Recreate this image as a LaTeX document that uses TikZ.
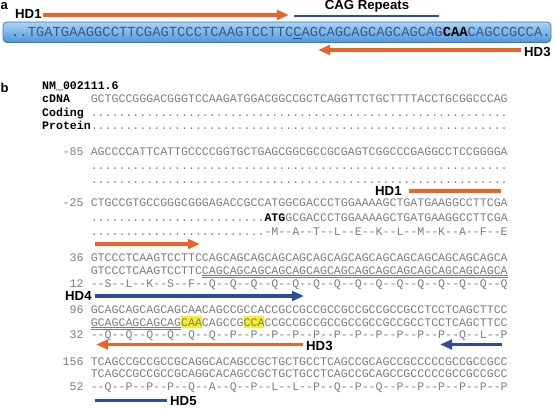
\documentclass[tikz,border=0pt]{standalone}
\usepackage{fontspec}
\setmainfont{Liberation Sans}
\setmonofont{Liberation Mono}
\usetikzlibrary{arrows.meta}
\definecolor{seqgray}{RGB}{125,125,125}
\definecolor{hdorange}{RGB}{233,99,43}
\definecolor{hdblue}{RGB}{46,77,155}
\definecolor{hlyellow}{RGB}{246,240,40}
\definecolor{bartop}{RGB}{170,212,244}
\definecolor{barbot}{RGB}{78,150,218}
\definecolor{barline}{RGB}{58,118,188}
\definecolor{bartext}{RGB}{52,88,140}
\newcommand\sqfont{\ttfamily\fontsize{11.58}{13}\selectfont}
\newcommand\bigsqfont{\ttfamily\fontsize{13.83}{15}\selectfont}
\newcommand\tendots{..........}
\newcommand\sixtydots{\tendots\tendots\tendots\tendots\tendots\tendots}
\begin{document}
\begin{tikzpicture}[x=1pt,y=-1pt,
  seq/.style={anchor=base west,inner sep=0,font=\sqfont,text=seqgray},
  lab/.style={anchor=base west,inner sep=0,font=\sqfont\bfseries,text=black},
  num/.style={anchor=base east,inner sep=0,font=\sqfont,text=seqgray},
  hd/.style={inner sep=0,font=\fontsize{13.2}{14}\selectfont\bfseries},
  panel/.style={inner sep=0,anchor=west,font=\fontsize{13}{13}\selectfont\bfseries},
  oarrow/.style={draw=hdorange,line width=3.2pt,-{Triangle[length=12pt,width=9.5pt]}},
  barrow/.style={draw=hdblue,line width=3.2pt,-{Triangle[length=12pt,width=9.5pt]}},
  oline/.style={draw=hdorange,line width=3.2pt},
  bline/.style={draw=hdblue,line width=3.2pt},
  uline/.style={draw=seqgray,line width=0.5pt},
  hilite/.style={fill=hlyellow,draw=none},
  seqbar/.style={draw=barline,line width=0.8pt,rounded corners=4pt,top color=bartop,bottom color=barbot,inner sep=0,minimum width=548pt,minimum height=20.5pt}]
\useasboundingbox (0,0) rectangle (557,409);

% ---------- panel a ----------
\node[panel] (pa) at (0.5,6.5) {a};
\node[hd,anchor=west] (hdonea) at (15,14) {HD1};
\coordinate (hdoneas) at (43,15);
\coordinate (hdoneae) at (289,15);
\draw[oarrow] (hdoneas) -- (hdoneae);
\node[hd] (cag) at (367,6.5) {CAG Repeats};
\coordinate (cags) at (294,16);
\coordinate (cage) at (439,16);
\draw[draw=hdblue,line width=2.6pt] (cags) -- (cage);
\node[seqbar] (bar) at (277,32.2) {};
\node[anchor=base west,inner sep=0,font=\bigsqfont,text=bartext] (seqa) at (11,36.6)
  {..TGATGAAGGCCTTCGAGTCCCTCAAGTCCTTC\underline{C}AGCAGCAGCAGCAGCAG\textcolor{black}{\bfseries CAA}CAGCCGCCA.};
\coordinate (hdthreeas) at (521,50);
\coordinate (hdthreeae) at (318,50);
\draw[oarrow] (hdthreeas) -- (hdthreeae);
\node[hd,anchor=west] (hdthreea) at (524,52) {HD3};

% ---------- panel b ----------
\node[panel] (pb) at (0.5,88) {b};
\node[lab] (nm) at (42,89.5) {NM\_002111.6};
\node[lab] (cdnal) at (42,103) {cDNA};
\node[seq] (cdna) at (90.6,103) {GCTGCCGGGACGGGTCCAAGATGGACGGCCGCTCAGGTTCTGCTTTTACCTGCGGCCCAG};
\node[lab] (codl) at (42,116.5) {Coding};
\node[seq] (cod) at (90.6,116.5) {\sixtydots};
\node[lab] (prol) at (42,130) {Protein};
\node[seq] (pro) at (90.6,130) {\sixtydots};

% -85
\node[num] (nA) at (83.7,156) {-85};
\node[seq] (sA) at (90.6,156) {AGCCCCATTCATTGCCCCGGTGCTGAGCGGCGCCGCGAGTCGGCCCGAGGCCTCCGGGGA};
\node[seq] (cA) at (90.6,169.5) {\sixtydots};
\node[seq] (pA) at (90.6,183.5) {\sixtydots};

% HD1 (b)
\node[hd,anchor=west] (hdoneb) at (375,190.5) {HD1};
\coordinate (hdonebs) at (409,191);
\coordinate (hdonebe) at (501,191);
\draw[oline] (hdonebs) -- (hdonebe);

% -25
\node[num] (nB) at (83.7,207) {-25};
\node[seq] (sB) at (90.6,207) {CTGCCGTGCCGGGCGGGAGACCGCCATGGCGACCCTGGAAAAGCTGATGAAGGCCTTCGA};
\node[seq] (cB) at (90.6,221) {\tendots\tendots.....\textcolor{black}{\bfseries ATG}GCGACCCTGGAAAAGCTGATGAAGGCCTTCGA};
\node[seq] (pB) at (90.6,235.5) {\tendots\tendots.....-M--A--T--L--E--K--L--M--K--A--F--E};

\coordinate (hdtwos) at (95,244);
\coordinate (hdtwoe) at (200,244);
\draw[oarrow] (hdtwos) -- (hdtwoe);

% 36
\node[num] (nC) at (83.7,261) {36};
\node[seq] (sC) at (90.6,261) {GTCCCTCAAGTCCTTCCAGCAGCAGCAGCAGCAGCAGCAGCAGCAGCAGCAGCAGCAGCA};
\node[seq] (cC) at (90.6,274) {GTCCCTCAAGTCCTTCCAGCAGCAGCAGCAGCAGCAGCAGCAGCAGCAGCAGCAGCAGCA};
\coordinate (ulCs) at (201.8,275.4);
\coordinate (ulCe) at (507.6,275.4);
\draw[uline] (ulCs) -- (ulCe);
\draw[uline] ([yshift=-1.6pt]ulCs) -- ([yshift=-1.6pt]ulCe);
\node[num] (qC) at (83.7,287.5) {12};
\node[seq] (pC) at (90.6,287.5) {--S--L--K--S--F--Q--Q--Q--Q--Q--Q--Q--Q--Q--Q--Q--Q--Q--Q--Q};

% HD4
\node[hd,anchor=west] (hdfour) at (65,296) {HD4};
\coordinate (hdfours) at (95,296);
\coordinate (hdfoure) at (304,296);
\draw[barrow] (hdfours) -- (hdfoure);

% 96
\node[num] (nD) at (83.7,313) {96};
\node[seq] (sD) at (90.6,313) {GCAGCAGCAGCAGCAACAGCCGCCACCGCCGCCGCCGCCGCCGCCGCCTCCTCAGCTTCC};
\fill[hilite] (181.0,315.6) rectangle (201.9,328.2);
\fill[hilite] (243.5,315.6) rectangle (264.4,328.2);
\node[seq] (cD) at (90.6,326) {GCAGCAGCAGCAGCAACAGCCGCCACCGCCGCCGCCGCCGCCGCCGCCTCCTCAGCTTCC};
\coordinate (ulDs) at (90.6,327.4);
\coordinate (ulDe) at (181.0,327.4);
\draw[uline] (ulDs) -- (ulDe);
\draw[uline] ([yshift=-1.6pt]ulDs) -- ([yshift=-1.6pt]ulDe);
\node[num] (qD) at (83.7,338.3) {32};
\node[seq] (pD) at (90.6,338.3) {--Q--Q--Q--Q--Q--Q--P--P--P--P--P--P--P--P--P--P--P--Q--L--P};

% HD3 (b) and reverse blue
\coordinate (hdthreebs) at (303,344.5);
\coordinate (hdthreebe) at (96,344.5);
\draw[oarrow] (hdthreebs) -- (hdthreebe);
\node[hd,anchor=west] (hdthreeb) at (306,345.5) {HD3};
\coordinate (revs) at (502,344.5);
\coordinate (reve) at (440,344.5);
\draw[barrow] (revs) -- (reve);

% 156
\node[num] (nE) at (83.7,365) {156};
\node[seq] (sE) at (90.6,365) {TCAGCCGCCGCCGCAGGCACAGCCGCTGCTGCCTCAGCCGCAGCCGCCCCCGCCGCCGCC};
\node[seq] (cE) at (90.6,377.5) {TCAGCCGCCGCCGCAGGCACAGCCGCTGCTGCCTCAGCCGCAGCCGCCCCCGCCGCCGCC};
\node[num] (qE) at (83.7,390) {52};
\node[seq] (pE) at (90.6,390) {--Q--P--P--P--Q--A--Q--P--L--L--P--Q--P--Q--P--P--P--P--P--P};

% HD5
\coordinate (hdfives) at (95,400.5);
\coordinate (hdfivee) at (167,400.5);
\draw[bline] (hdfives) -- (hdfivee);
\node[hd,anchor=west] (hdfive) at (170,401) {HD5};
\end{tikzpicture}
\end{document}
